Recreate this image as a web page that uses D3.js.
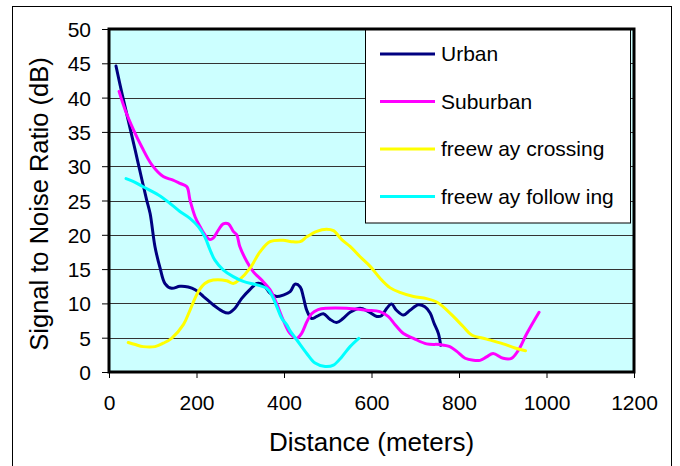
<!DOCTYPE html>
<html><head><meta charset="utf-8">
<script src="https://cdn.jsdelivr.net/npm/d3@7"></script>
<style>html,body{margin:0;padding:0;background:#fff;}svg{display:block;font-family:"Liberation Sans",Arial,sans-serif;}</style>
</head><body>
<svg id="chart" width="680" height="466"></svg>
<script>
const seriesNames = ["Urban", "Suburban", "freew ay crossing", "freew ay following"];
const legendLabels = ["Urban", "Suburban", "freew ay crossing", "freew ay follow ing"];
const seriesColors = ["#000080", "#FF00FF", "#FFFF00", "#00FFFF"];
const xTicks = [0, 200, 400, 600, 800, 1000, 1200];
const yTicks = [0, 5, 10, 15, 20, 25, 30, 35, 40, 45, 50];

const urban = [[16,44.6],[30,40.5],[45,36.4],[60,32.3],[75,28.1],[86,25.1],[94,23.1],[105,18.3],[117,15.1],[128,12.9],[143,12.2],[162,12.5],[181,12.4],[197,12.0],[216,11.0],[238,9.8],[258,8.9],[273,8.6],[288,9.3],[303,10.7],[322,12.0],[338,12.9],[353,12.7],[368,11.5],[383,11.0],[398,11.2],[414,11.7],[425,12.8],[437,12.4],[444,11.0],[452,9.0],[463,7.8],[475,8.1],[490,8.5],[505,7.7],[520,7.2],[535,7.8],[551,8.7],[574,9.3],[593,8.8],[612,8.1],[623,8.2],[635,9.3],[646,9.9],[657,9.0],[673,8.3],[688,9.0],[707,9.8],[722,9.5],[734,8.6],[743,7.1],[753,5.6],[758,3.9]];
const suburban = [[23,40.9],[37,38.2],[56,35.3],[75,32.8],[98,30.2],[124,28.5],[145,28.0],[162,27.5],[178,27.0],[185,25.1],[197,22.6],[208,21.2],[219,20.0],[231,19.3],[238,19.5],[250,20.7],[261,21.6],[273,21.6],[284,20.5],[292,20.0],[299,18.3],[315,16.1],[330,14.6],[349,13.4],[368,12.0],[383,10.0],[398,7.6],[414,5.6],[429,4.9],[440,5.6],[452,7.3],[463,8.5],[478,9.1],[497,9.3],[543,9.3],[589,9.0],[619,8.8],[638,8.1],[654,6.9],[673,5.6],[696,4.9],[726,4.1],[757,4.0],[779,3.7],[795,3.0],[814,2.0],[833,1.7],[848,1.7],[863,2.2],[878,2.7],[901,2.0],[920,2.0],[936,3.2],[955,5.6],[983,8.7]];
const freewayCrossing = [[44,4.3],[60,4.0],[78,3.7],[105,3.7],[124,4.2],[143,4.9],[170,6.9],[185,9.0],[204,11.7],[219,12.9],[238,13.4],[269,13.3],[284,12.9],[299,13.5],[322,15.1],[345,17.5],[368,19.0],[398,19.2],[417,19.0],[437,19.0],[452,19.7],[475,20.5],[497,20.8],[513,20.6],[532,19.3],[551,18.3],[574,16.8],[597,15.4],[619,13.7],[642,12.3],[665,11.6],[696,11.0],[726,10.7],[749,10.2],[764,9.5],[787,8.1],[810,6.6],[829,5.4],[863,4.8],[901,4.1],[928,3.5],[952,3.1]];
const freewayFollowing = [[39,28.2],[55,27.8],[78,27.0],[113,25.8],[139,24.6],[162,23.4],[185,22.4],[204,21.2],[219,19.7],[231,17.8],[242,16.3],[261,14.9],[284,13.9],[307,13.2],[338,12.7],[360,12.2],[372,11.2],[383,9.6],[395,7.8],[406,6.9],[414,6.0],[429,4.7],[452,2.7],[471,1.3],[494,0.8],[513,1.0],[532,2.2],[551,3.7],[571,4.9]];

const allSeries = [urban, suburban, freewayCrossing, freewayFollowing];

const svg = d3.select("#chart");
const L = 109, R = 634, T = 29, B = 372;
const x = d3.scaleLinear().domain([0, 1200]).range([L, R]);
const y = d3.scaleLinear().domain([0, 50]).range([B, T]);

// outer chart border
svg.append("rect").attr("x", 12.5).attr("y", 6.5).attr("width", 659).attr("height", 480)
  .attr("fill", "#fff").attr("stroke", "#000").attr("stroke-width", 1);

// plot background
svg.append("rect").attr("x", L).attr("y", T).attr("width", R - L).attr("height", B - T)
  .attr("fill", "#CCFFFF");

// gridlines
svg.append("g").selectAll("line").data(yTicks.filter(d => d > 0 && d < 50)).join("line")
  .attr("x1", L).attr("x2", R).attr("y1", d => Math.round(y(d)) + 0.5).attr("y2", d => Math.round(y(d)) + 0.5)
  .attr("stroke", "#333").attr("stroke-width", 1);

// series
const line = d3.line().x(d => x(d[0])).y(d => y(d[1])).curve(d3.curveCatmullRom.alpha(0.5));
svg.append("g").selectAll("path").data(allSeries).join("path")
  .attr("d", d => line(d)).attr("fill", "none")
  .attr("stroke", (d, i) => seriesColors[i]).attr("stroke-width", 3)
  .attr("stroke-linejoin", "round").attr("stroke-linecap", "round");

// legend
const lg = svg.append("g");
lg.append("rect").attr("x", 365.5).attr("y", T).attr("width", 265).attr("height", 194)
  .attr("fill", "#fff").attr("stroke", "#000").attr("stroke-width", 1);
const legY = [54, 101.5, 149, 196.5];
legendLabels.forEach((name, i) => {
  lg.append("line").attr("x1", 380).attr("x2", 435).attr("y1", legY[i]).attr("y2", legY[i])
    .attr("stroke", seriesColors[i]).attr("stroke-width", 3);
  lg.append("text").attr("x", 441).attr("y", legY[i]).attr("dy", "0.35em")
    .attr("font-size", 21).attr("fill", "#000").text(name);
});

// plot border
svg.append("rect").attr("x", L).attr("y", T).attr("width", R - L).attr("height", B - T)
  .attr("fill", "none").attr("stroke", "#000").attr("stroke-width", 3);

// axes
const xAxis = d3.axisBottom(x).tickValues(xTicks).tickSize(6).tickFormat(d3.format("d"));
const gx = svg.append("g").attr("transform", `translate(0,${B})`).call(xAxis);
gx.select(".domain").remove();
gx.selectAll("line").attr("stroke", "#000");
gx.selectAll("text").attr("y", 38).attr("dy", 0).attr("font-size", 21).attr("fill", "#000")
  .attr("font-family", "Liberation Sans, Arial, sans-serif");

const yAxis = d3.axisLeft(y).tickValues(yTicks).tickSize(7).tickFormat(d3.format("d"));
const gy = svg.append("g").attr("transform", `translate(${L},0)`).call(yAxis);
gy.select(".domain").remove();
gy.selectAll("line").attr("stroke", "#000");
gy.selectAll("text").attr("x", -18).attr("dy", "0.36em").attr("font-size", 21).attr("fill", "#000")
  .attr("font-family", "Liberation Sans, Arial, sans-serif");

// titles
svg.append("text").attr("x", (L + R) / 2).attr("y", 451).attr("text-anchor", "middle")
  .attr("font-size", 26).attr("fill", "#000").text("Distance (meters)");
svg.append("text").attr("transform", "translate(48,204) rotate(-90)").attr("text-anchor", "middle")
  .attr("font-size", 25.5).attr("fill", "#000").text("Signal to Noise Ratio (dB)");
</script>
</body></html>
